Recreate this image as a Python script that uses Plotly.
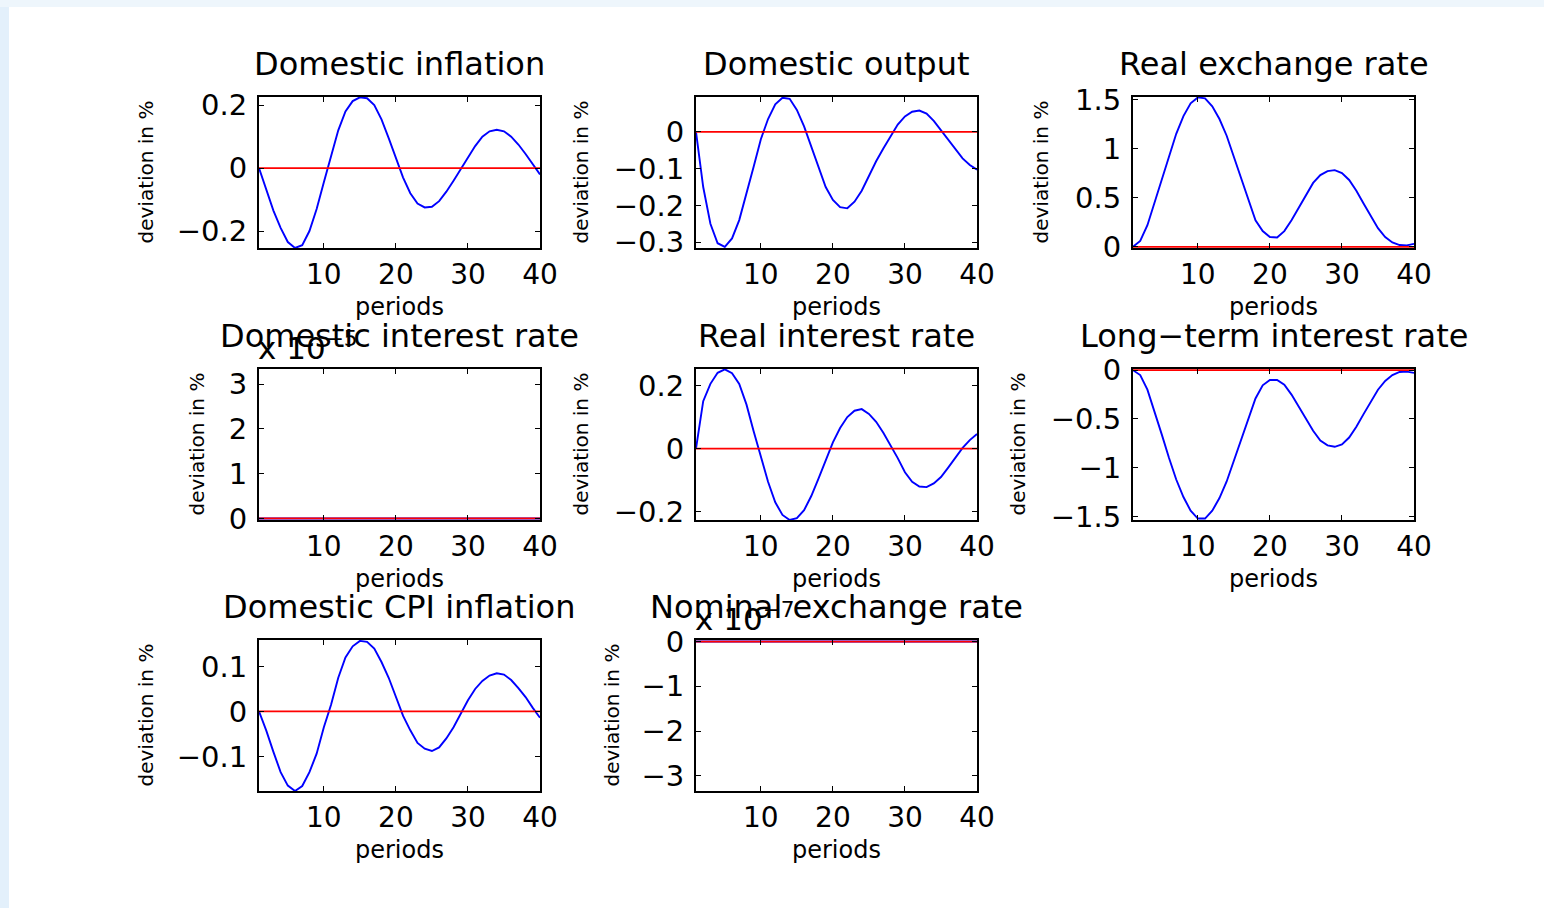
import plotly.graph_objects as go

W, H = 1544, 908

periods = list(range(1, 41))
zero_line = [0.0] * 40

domestic_inflation = [0, -0.07, -0.135, -0.19, -0.235, -0.254, -0.245, -0.2, -0.13, -0.045,
                      0.04, 0.12, 0.18, 0.213, 0.225, 0.222, 0.2, 0.155, 0.095, 0.03,
                      -0.03, -0.08, -0.113, -0.125, -0.123, -0.105, -0.075, -0.04, -0.003, 0.035,
                      0.07, 0.1, 0.117, 0.122, 0.117, 0.1, 0.075, 0.045, 0.012, -0.02]
domestic_output = [0, -0.15, -0.25, -0.303, -0.313, -0.29, -0.24, -0.17, -0.095, -0.02,
                   0.035, 0.075, 0.093, 0.09, 0.06, 0.015, -0.04, -0.1, -0.15, -0.185,
                   -0.205, -0.208, -0.19, -0.16, -0.12, -0.08, -0.045, -0.012, 0.02, 0.042,
                   0.055, 0.058, 0.05, 0.03, 0.005, -0.02, -0.047, -0.072, -0.09, -0.103]
real_exchange_rate = [0, 0.06, 0.22, 0.45, 0.69, 0.93, 1.15, 1.33, 1.46, 1.52,
                      1.51, 1.43, 1.3, 1.13, 0.92, 0.71, 0.48, 0.27, 0.16, 0.1,
                      0.095, 0.16, 0.27, 0.4, 0.53, 0.65, 0.73, 0.77, 0.78, 0.75,
                      0.68, 0.57, 0.44, 0.31, 0.19, 0.1, 0.045, 0.018, 0.015, 0.03]
domestic_interest_rate = [0.0] * 40
real_interest_rate = [0, 0.15, 0.205, 0.24, 0.251, 0.239, 0.205, 0.14, 0.055, -0.025,
                      -0.105, -0.17, -0.21, -0.226, -0.22, -0.195, -0.15, -0.095, -0.035, 0.02,
                      0.065, 0.1, 0.12, 0.125, 0.11, 0.085, 0.05, 0.01, -0.03, -0.075,
                      -0.105, -0.12, -0.122, -0.11, -0.09, -0.06, -0.03, 0.002, 0.027, 0.046]
long_term_interest_rate = [0, -0.05, -0.2, -0.42, -0.66, -0.9, -1.12, -1.3, -1.44, -1.52,
                           -1.52, -1.44, -1.31, -1.14, -0.93, -0.71, -0.49, -0.29, -0.155, -0.1,
                           -0.1, -0.15, -0.25, -0.37, -0.5, -0.62, -0.72, -0.77, -0.785, -0.76,
                           -0.69, -0.58, -0.45, -0.32, -0.2, -0.11, -0.05, -0.018, -0.015, -0.028]
domestic_cpi_inflation = [0, -0.042, -0.09, -0.135, -0.165, -0.177, -0.166, -0.135, -0.094, -0.035,
                          0.015, 0.075, 0.12, 0.145, 0.157, 0.155, 0.14, 0.11, 0.075, 0.03,
                          -0.01, -0.042, -0.07, -0.083, -0.088, -0.08, -0.06, -0.035, -0.005, 0.025,
                          0.05, 0.068, 0.08, 0.085, 0.082, 0.07, 0.052, 0.032, 0.008, -0.014]
nominal_exchange_rate = [0.0] * 40

titles = ["Domestic inflation", "Domestic output", "Real exchange rate",
          "Domestic interest rate", "Real interest rate", "Long\u2212term interest rate",
          "Domestic CPI inflation", "Nominal exchange rate"]

x_tickvals = [10, 20, 30, 40]
x_ticktext = ["10", "20", "30", "40"]

M = "\u2212"
panels = [
    dict(y=domestic_inflation, rng=[-0.254, 0.226], tv=[-0.2, 0, 0.2], tt=[M + "0.2", "0", "0.2"]),
    dict(y=domestic_output, rng=[-0.316, 0.095], tv=[-0.3, -0.2, -0.1, 0], tt=[M + "0.3", M + "0.2", M + "0.1", "0"]),
    dict(y=real_exchange_rate, rng=[-0.012, 1.524], tv=[0, 0.5, 1, 1.5], tt=["0", "0.5", "1", "1.5"]),
    dict(y=domestic_interest_rate, rng=[-0.035e-5, 3.34e-5], tv=[0, 1e-5, 2e-5, 3e-5], tt=["0", "1", "2", "3"]),
    dict(y=real_interest_rate, rng=[-0.226, 0.252], tv=[-0.2, 0, 0.2], tt=[M + "0.2", "0", "0.2"]),
    dict(y=long_term_interest_rate, rng=[-1.535, 0.012], tv=[-1.5, -1, -0.5, 0], tt=[M + "1.5", M + "1", M + "0.5", "0"]),
    dict(y=domestic_cpi_inflation, rng=[-0.177, 0.159], tv=[-0.1, 0, 0.1], tt=[M + "0.1", "0", "0.1"]),
    dict(y=nominal_exchange_rate, rng=[-3.34e-7, 0.035e-7], tv=[-3e-7, -2e-7, -1e-7, 0], tt=[M + "3", M + "2", M + "1", "0"]),
]

col_x = [(259, 540), (696, 977), (1133, 1414)]
row_y = [(97, 248), (369, 520), (640, 791)]
ylabel_x = [[145, 580, 1040], [196, 580, 1017], [145, 611, None]]

FONT = "DejaVu Sans, Liberation Sans, Arial, sans-serif"

def fx(px):
    return px / W

def fy(py):
    return 1 - py / H

fig = go.Figure()
annotations = []
layout = {}

for i, p in enumerate(panels):
    r, c = divmod(i, 3)
    n = i + 1
    xa = "x" if n == 1 else f"x{n}"
    ya = "y" if n == 1 else f"y{n}"
    fig.add_trace(go.Scatter(x=periods, y=p["y"], mode="lines", xaxis=xa, yaxis=ya,
                             line=dict(color="#0000ff", width=1.9), showlegend=False, hoverinfo="skip"))
    fig.add_trace(go.Scatter(x=periods, y=zero_line, mode="lines", xaxis=xa, yaxis=ya,
                             line=dict(color="#ff0000", width=1.8), showlegend=False, hoverinfo="skip"))
    x0, x1 = col_x[c]
    y0, y1 = row_y[r]
    common = dict(showline=True, linecolor="black", linewidth=2, mirror="ticks",
                  ticks="inside", ticklen=5, tickwidth=1, tickcolor="black",
                  showgrid=False, zeroline=False, automargin=False)
    layout["xaxis" if n == 1 else f"xaxis{n}"] = dict(
        domain=[fx(x0), fx(x1)], anchor=ya, range=[1, 40],
        tickmode="array", tickvals=x_tickvals, ticktext=x_ticktext,
        tickfont=dict(family=FONT, size=28, color="black"),
        ticklabelstandoff=0, **common)
    layout["yaxis" if n == 1 else f"yaxis{n}"] = dict(
        domain=[fy(y1), fy(y0)], anchor=xa, range=p["rng"],
        tickmode="array", tickvals=p["tv"], ticktext=p["tt"],
        tickfont=dict(family=FONT, size=29, color="black"),
        ticklabelstandoff=4, **common)
    annotations.append(dict(text=titles[i], x=fx((x0 + x1) / 2), y=fy(y0 - 33), xref="paper", yref="paper",
                            xanchor="center", yanchor="middle", showarrow=False,
                            font=dict(family=FONT, size=32, color="black")))
    annotations.append(dict(text="periods", x=fx((x0 + x1) / 2), y=fy(y1 + 59), xref="paper", yref="paper",
                            xanchor="center", yanchor="middle", showarrow=False,
                            font=dict(family=FONT, size=24, color="black")))
    annotations.append(dict(text="deviation in %", x=fx(ylabel_x[r][c]), y=fy((y0 + y1) / 2), xref="paper", yref="paper",
                            xanchor="center", yanchor="middle", showarrow=False, textangle=-90,
                            font=dict(family=FONT, size=20, color="black")))

annotations.append(dict(text="x 10<sup>\u22125</sup>", x=fx(256), y=fy(346), xref="paper", yref="paper",
                        xanchor="left", yanchor="middle", showarrow=False,
                        font=dict(family=FONT, size=31, color="black")))
annotations.append(dict(text="x 10<sup>\u22127</sup>", x=fx(693), y=fy(617), xref="paper", yref="paper",
                        xanchor="left", yanchor="middle", showarrow=False,
                        font=dict(family=FONT, size=31, color="black")))

shapes = [
    dict(type="rect", xref="paper", yref="paper", x0=0, x1=fx(9), y0=0, y1=fy(7),
         fillcolor="#e3f0fb", line=dict(width=0), layer="below"),
    dict(type="rect", xref="paper", yref="paper", x0=fx(9), x1=1, y0=0, y1=fy(7),
         fillcolor="white", line=dict(width=0), layer="below"),
]

fig.update_layout(width=W, height=H, margin=dict(l=0, r=0, t=0, b=0, pad=0, autoexpand=False),
                  paper_bgcolor="#eef6fc", plot_bgcolor="rgba(0,0,0,0)",
                  annotations=annotations, shapes=shapes, showlegend=False,
                  font=dict(family=FONT, color="black"), **layout)

post = ("var d=document.getElementById('{plot_id}');"
        "document.documentElement.style.margin='0';document.body.style.margin='0';"
        "document.documentElement.style.overflow='hidden';document.body.style.overflow='hidden';"
        "d.style.position='absolute';d.style.left='0px';d.style.top='0px';")

fig.write_html("out.html", post_script=post, config={"displayModeBar": False})
